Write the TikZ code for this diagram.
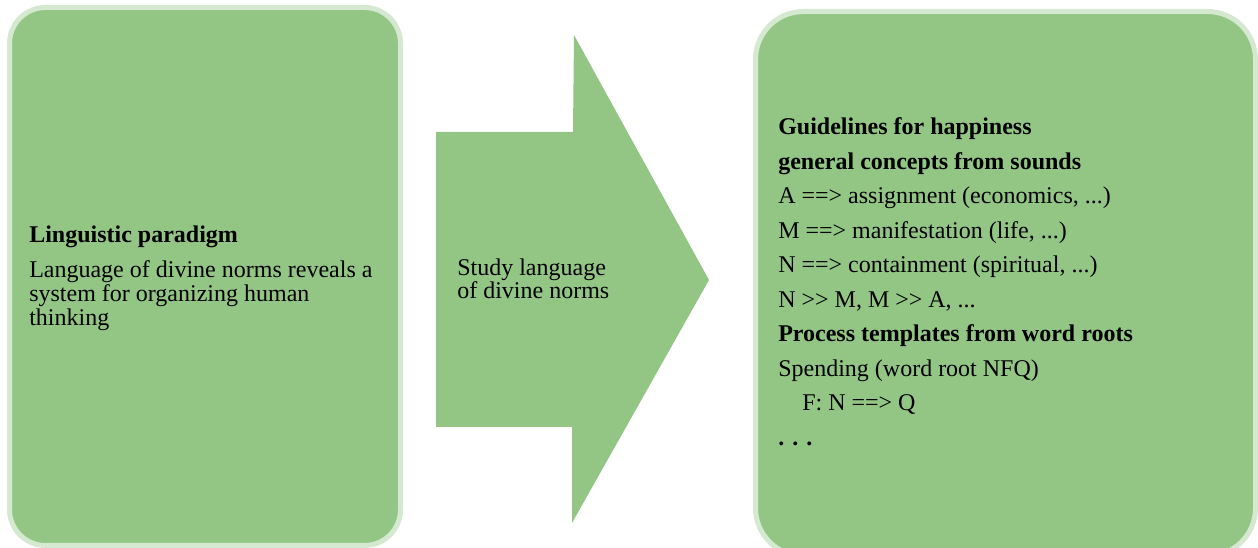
\documentclass[tikz,border=0pt]{standalone}
\usepackage{fontspec}
\setmainfont{Liberation Serif}
\usepackage{tikz}
\definecolor{boxgreen}{HTML}{93C685}
\definecolor{rimgreen}{HTML}{D5E8D0}
\tikzset{
  greenbox/.style={fill=boxgreen, draw=rimgreen, line width=3.75pt},
  blocktext/.style={inner sep=0pt, align=left, font=\fontsize{18}{18}\selectfont}
}

\begin{document}
\begin{tikzpicture}[x=0.75pt,y=-0.75pt]
  \useasboundingbox (0,0) rectangle (1258,548);
  % the two boxes
  \draw[greenbox, rounded corners=27pt] (9.5,7.5) rectangle (400.5,545.5);
  \draw[greenbox, rounded corners=36pt] (755.5,11.5) rectangle (1255.5,556);
  % the block arrow
  \coordinate (S1) at (436,132);
  \coordinate (S2) at (573,132);
  \coordinate (H1) at (574,35);
  \coordinate (T) at (709,280);
  \coordinate (H2) at (572,523);
  \coordinate (S3) at (572,427);
  \coordinate (S4) at (436,427);
  \fill[boxgreen] (S1)--(S2)--(H1)--(T)--(H2)--(S3)--(S4)--cycle;

  \node[blocktext, anchor=north west] (paradigm) at (29,225.5)
    {\textbf{Linguistic paradigm}\\[8.25pt]
     Language of divine norms reveals a\\
     system for organizing human\\
     thinking};
  \node[blocktext, anchor=north west, font=\fontsize{18}{17.25}\selectfont] (study) at (457,258.5)
    {Study language\\of divine norms};
  \node[blocktext, anchor=north west, font=\fontsize{18}{25.9}\selectfont] (guide) at (778,117.5)
    {\textbf{Guidelines for happiness}\\
     \textbf{general concepts from sounds}\\
     A ==> assignment (economics, ...)\\
     M ==> manifestation (life, ...)\\
     N ==> containment (spiritual, ...)\\
     N >{}> M, M >{}> A, ...\\
     \textbf{Process templates from word roots}\\
     Spending (word root NFQ)\\
     \hspace{18pt}F: N ==> Q\\
     \textbf{. . .}};
\end{tikzpicture}
\end{document}
